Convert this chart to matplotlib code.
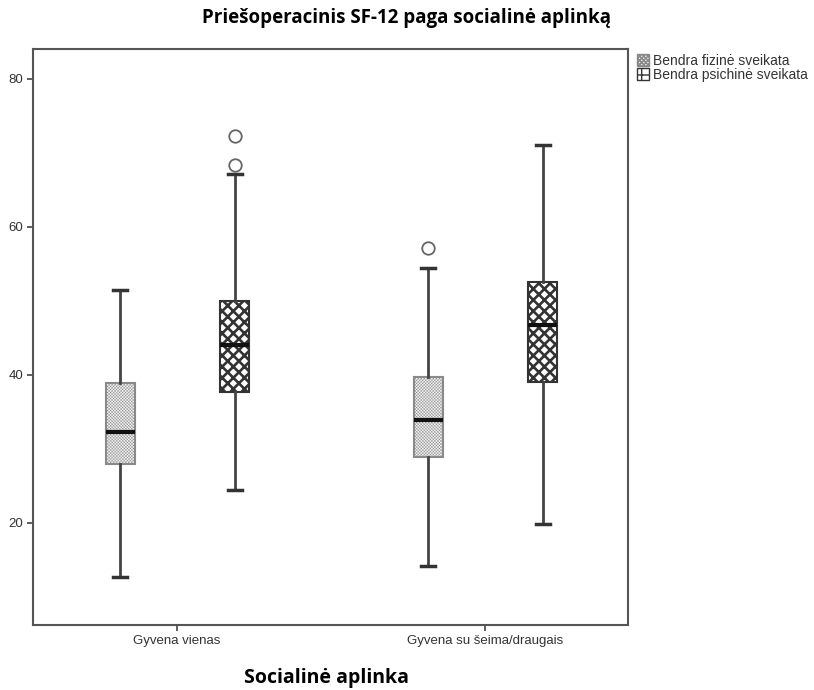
import matplotlib
matplotlib.use("Agg")
import matplotlib.pyplot as plt
from matplotlib.patches import Patch

# SF-12 summary per social group
groups = ["Gyvena vienas", "Gyvena su šeima/draugais"]
series = ["Bendra fizinė sveikata", "Bendra psichinė sveikata"]

# [group] -> (whislo, q1, med, q3, whishi)
fiz_stats = [(12.7, 28.0, 32.3, 38.9, 51.5), (14.2, 28.9, 33.9, 39.7, 54.5)]
psi_stats = [(24.5, 37.7, 44.1, 50.0, 67.2), (19.8, 39.1, 46.8, 52.6, 71.1)]
fiz_fliers = [[], [57.2]]
psi_fliers = [[72.3, 68.4], []]

FIZ_HATCH = "x" * 11
PSI_HATCH = "xxx"

fig = plt.figure(figsize=(8.14, 6.90), dpi=100)
ax = fig.add_axes([33 / 814, 1 - 625 / 690, 595 / 814, 576 / 690])


def make_stats(stats, fliers):
    out = []
    for (lo, q1, med, q3, hi), fl in zip(stats, fliers):
        out.append(dict(whislo=lo, q1=q1, med=med, q3=q3, whishi=hi, fliers=fl))
    return out


def hatch_lw(p, lw):
    if hasattr(p, "set_hatch_linewidth"):
        p.set_hatch_linewidth(lw)


common = dict(
    widths=0.094,
    patch_artist=True,
    whiskerprops=dict(color="#444444", linewidth=2),
    capprops=dict(color="#333333", linewidth=2.5),
    medianprops=dict(color="#111111", linewidth=3),
    flierprops=dict(marker="o", markerfacecolor="white", markeredgecolor="#666666",
                    markersize=9, markeredgewidth=1.3),
    manage_ticks=False,
)

b1 = ax.bxp(make_stats(fiz_stats, fiz_fliers), positions=[-0.185, 0.815], **common)
b2 = ax.bxp(make_stats(psi_stats, psi_fliers), positions=[0.188, 1.188], **common)

for box in b1["boxes"]:
    box.set_facecolor("#f4f4f4")
    box.set_edgecolor("#8a8a8a")
    box.set_hatch(FIZ_HATCH)
    hatch_lw(box, 0.3)
    box.set_linewidth(1.5)
for box in b2["boxes"]:
    box.set_facecolor("white")
    box.set_edgecolor("#333333")
    box.set_hatch(PSI_HATCH)
    hatch_lw(box, 1.9)
    box.set_linewidth(1.5)

ax.set_xlim(-0.4675, 1.464)
ax.set_ylim(6.2, 84.05)
ax.set_xticks([0, 1])
ax.set_xticklabels(groups, fontsize=9.5, family="Liberation Sans", color="#333333")
ax.set_yticks([20, 40, 60, 80])
ax.set_yticklabels(["20", "40", "60", "80"], fontsize=9.5, family="Liberation Sans", color="#333333")
ax.tick_params(length=4, width=1.2, color="#444444", pad=3)
for s in ax.spines.values():
    s.set_color("#555555")
    s.set_linewidth(1.5)

fig.text(407 / 814, 1 - 18 / 690, "Priešoperacinis SF-12 paga socialinė aplinką",
         ha="center", va="center", fontsize=13.5, fontweight="bold", family="Open Sans")
fig.text(327 / 814, 1 - 678 / 690, "Socialinė aplinka",
         ha="center", va="center", fontsize=14, fontweight="bold", family="Open Sans")

handles = [
    Patch(facecolor="#eeeeee", edgecolor="#888888", hatch="x" * 8, label=series[0]),
    Patch(facecolor="white", edgecolor="#333333", hatch="+", label=series[1]),
]
leg = fig.legend(handles=handles, loc="upper left", bbox_to_anchor=(631 / 814, 1 - 48 / 690),
                 frameon=False, handlelength=0.9, handleheight=1.0,
                 handletextpad=0.25, labelspacing=0.0, borderaxespad=0,
                 prop=dict(family="Liberation Sans", size=10))
for t in leg.get_texts():
    t.set_color("#333333")

fig.savefig("out.png", dpi=100)
